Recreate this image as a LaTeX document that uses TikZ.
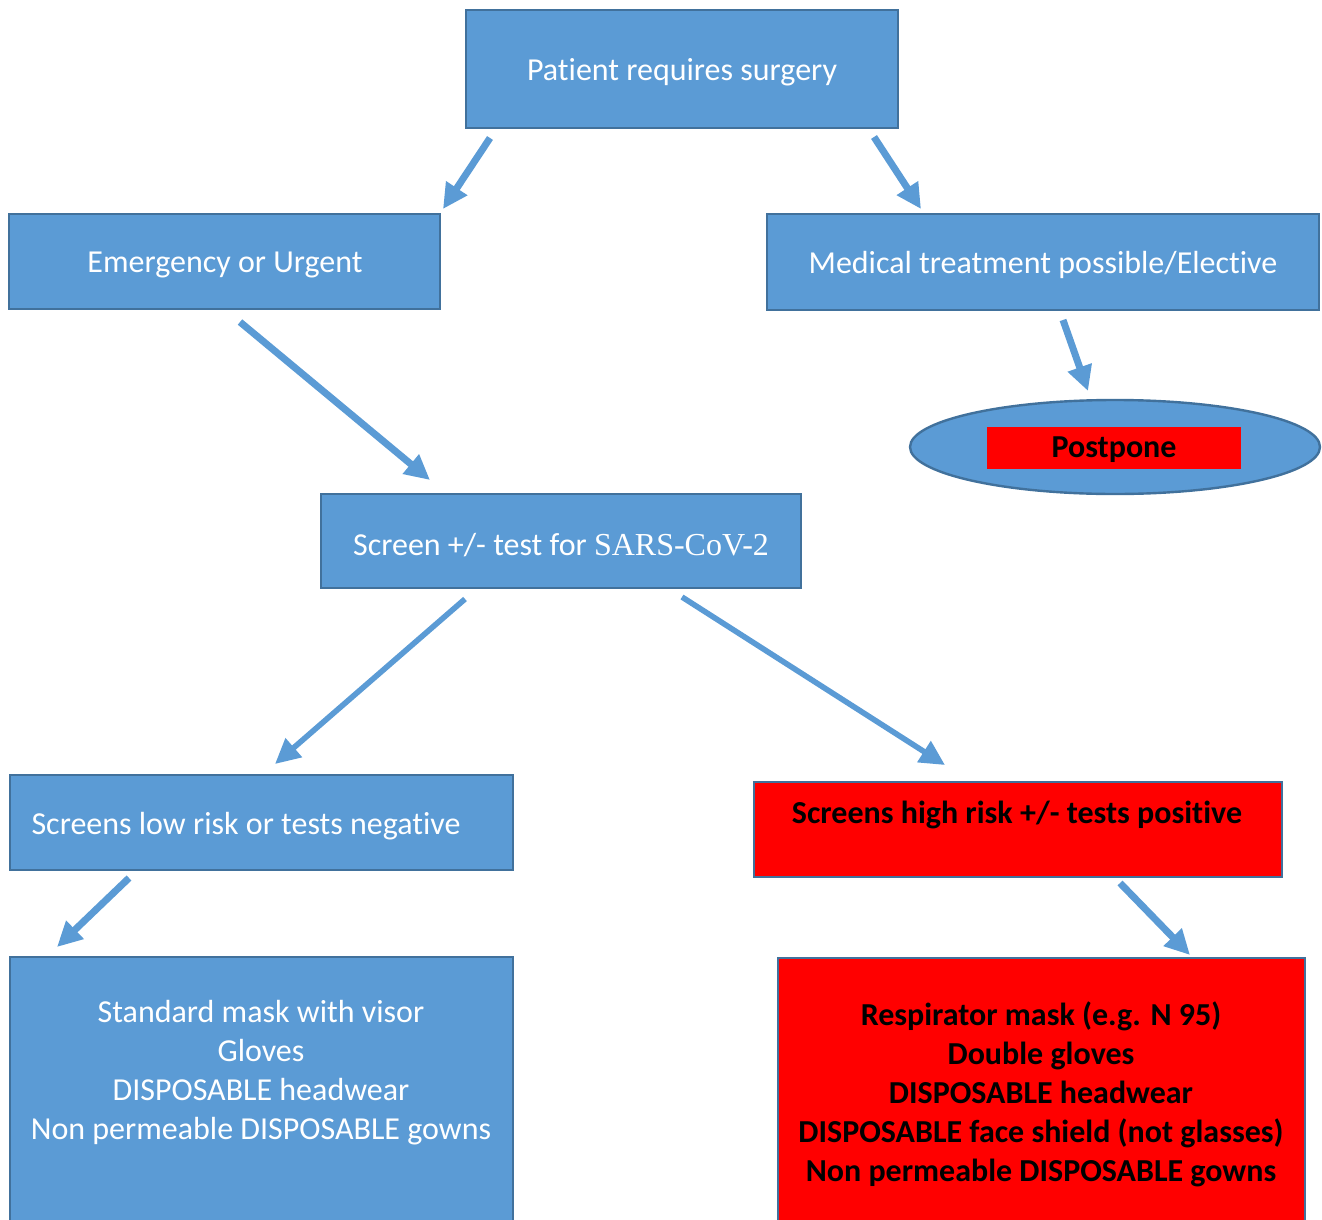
\documentclass[tikz,border=0pt]{standalone}
\usepackage{fontspec}
\setmainfont{Carlito}[Ligatures=NoCommon]
\newfontfamily\sarsfont{Liberation Serif}
\usetikzlibrary{arrows.meta,shapes.geometric}
\definecolor{boxblue}{HTML}{5B9BD5}
\definecolor{boxedge}{HTML}{41719C}
\definecolor{alarm}{HTML}{FF0000}
\tikzset{
  box/.style={draw=boxedge, line width=1.2pt, fill=boxblue, inner sep=0pt},
  redbox/.style={box, fill=alarm},
  label/.style={font=\fontsize{16}{19.5}\selectfont, text=white, align=center, inner sep=0pt},
  redlabel/.style={label, text=black, font=\fontsize{16}{19.5}\selectfont\bfseries},
  flow/.style={draw=boxblue, line width=3.5pt, -{Triangle[length=12.5pt,width=12pt]}},
  thinflow/.style={flow, line width=2.8pt}
}
\begin{document}
\begin{tikzpicture}[x=0.5pt, y=-0.5pt]
    \useasboundingbox (0,0) rectangle (1322,1220);

    % boxes
    \node[box, minimum width=216pt, minimum height=59pt] (patient) at (682,69) {};
    \node[label] (patienttxt) at (682,72) {Patient requires surgery};

    \node[box, minimum width=215.5pt, minimum height=47.5pt] (urgent) at (224.5,261.5) {};
    \node[label] (urgenttxt) at (225,265) {Emergency or Urgent};

    \node[box, minimum width=276pt, minimum height=48pt] (elective) at (1043,262) {};
    \node[label] (electivetxt) at (1043,265) {Medical treatment possible/Elective};

    \node[ellipse, draw=boxedge, line width=1.2pt, fill=boxblue, minimum width=205pt, minimum height=47pt] (postpone) at (1115,447) {};
    \node[fill=alarm, minimum width=127pt, minimum height=21pt, inner sep=0pt] (postponebar) at (1114,448) {};
    \node[redlabel] (postponetxt) at (1114,450) {Postpone};

    \node[box, minimum width=240pt, minimum height=47pt] (screen) at (561,541) {};
    \node[label] (screentxt) at (561,545) {Screen +/- test for {\sarsfont SARS-CoV-2}};

    \node[box, minimum width=251.5pt, minimum height=47.5pt] (lowrisk) at (261.5,822.5) {};
    \node[label] (lowrisktxt) at (246,826) {Screens low risk or tests negative};

    \node[redbox, minimum width=264pt, minimum height=47.5pt] (highrisk) at (1018,829.5) {};
    \node[redlabel] (highrisktxt) at (1017,815) {Screens high risk +/- tests positive};

    \node[box, minimum width=251.5pt, minimum height=137pt] (standard) at (261.5,1094) {};
    \node[label] (standardtxt) at (261,1073) {Standard mask with visor\\Gloves\\DISPOSABLE headwear\\Non permeable DISPOSABLE gowns};

    \node[redbox, minimum width=263.5pt, minimum height=137pt] (enhanced) at (1041.5,1095) {};
    \node[redlabel] (enhancedtxt) at (1041,1094) {Respirator mask (e.g. N 95)\\Double gloves\\DISPOSABLE headwear\\DISPOSABLE face shield (not glasses)\\Non permeable DISPOSABLE gowns};

    % arrow ends
    \coordinate (a1) at (490,138);  \coordinate (b1) at (443,209);
    \coordinate (a2) at (874,137);  \coordinate (b2) at (921,209);
    \coordinate (a3) at (240,322);  \coordinate (b3) at (430,480);
    \coordinate (a4) at (1063,320); \coordinate (b4) at (1088,391);
    \coordinate (a5) at (465,599);  \coordinate (b5) at (275,764);
    \coordinate (a6) at (682,597);  \coordinate (b6) at (945,765);
    \coordinate (a7) at (129,878);  \coordinate (b7) at (57,947);
    \coordinate (a8) at (1120,883); \coordinate (b8) at (1190,955);

    \draw[flow] (a1) -- (b1);
    \draw[flow] (a2) -- (b2);
    \draw[flow] (a3) -- (b3);
    \draw[flow] (a4) -- (b4);
    \draw[thinflow] (a5) -- (b5);
    \draw[thinflow] (a6) -- (b6);
    \draw[flow] (a7) -- (b7);
    \draw[flow] (a8) -- (b8);
\end{tikzpicture}
\end{document}
